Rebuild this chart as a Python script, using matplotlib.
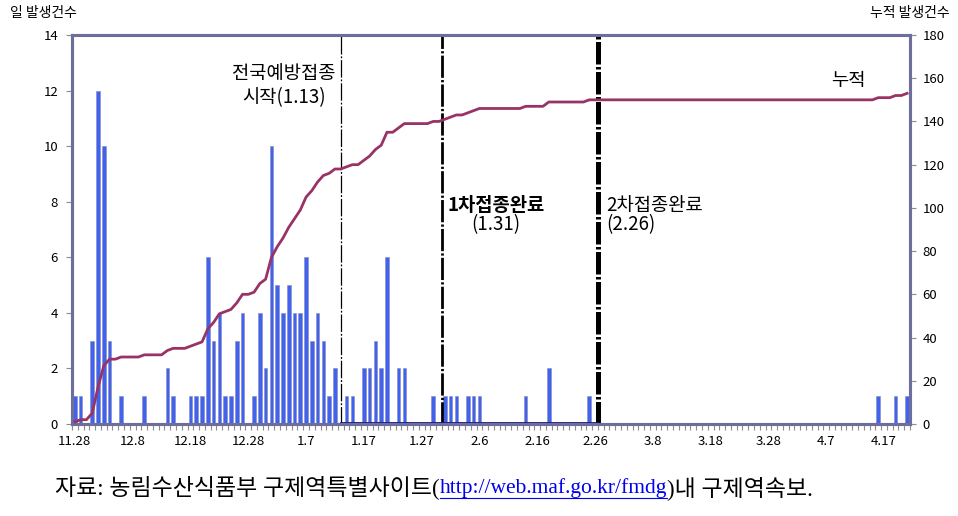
import numpy as np
import pandas as pd
import matplotlib
matplotlib.use("Agg")
import matplotlib.pyplot as plt

plt.rcParams['font.family'] = ['Noto Sans CJK KR', 'DejaVu Sans']

# ---- data ----
start_date = "2010-11-28"
end_date = "2011-04-21"
daily_cases = [
    1, 1, 0, 3, 12, 10, 3, 0, 1, 0,
    0, 0, 1, 0, 0, 0, 2, 1, 0, 0,
    1, 1, 1, 6, 3, 4, 1, 1, 3, 4,
    0, 1, 4, 2, 10, 5, 4, 5, 4, 4,
    6, 3, 4, 3, 1, 2, 0, 1, 1, 0,
    2, 2, 3, 2, 6, 0, 2, 2, 0, 0,
    0, 0, 1, 0, 1, 1, 1, 0, 1, 1,
    1, 0, 0, 0, 0, 0, 0, 0, 1, 0,
    0, 0, 2, 0, 0, 0, 0, 0, 0, 1,
    0, 0, 0, 0, 0, 0, 0, 0, 0, 0,
    0, 0, 0, 0, 0, 0, 0, 0, 0, 0,
    0, 0, 0, 0, 0, 0, 0, 0, 0, 0,
    0, 0, 0, 0, 0, 0, 0, 0, 0, 0,
    0, 0, 0, 0, 0, 0, 0, 0, 0, 1,
    0, 0, 1, 0, 1,
]
tick_labels = ["11.28", "12.8", "12.18", "12.28", "1.7", "1.17", "1.27",
               "2.6", "2.16", "2.26", "3.8", "3.18", "3.28", "4.7", "4.17"]
left_ticks = [0, 2, 4, 6, 8, 10, 12, 14]
right_ticks = [0, 20, 40, 60, 80, 100, 120, 140, 160, 180]

dates = pd.date_range(start_date, end_date, freq="D")
n = len(dates)
x = np.arange(n)
cumulative = np.cumsum(daily_cases)

# ---- figure ----
fig = plt.figure(figsize=(9.58, 5.16), dpi=100)
ax = fig.add_axes([72/958, 1-424/516, (910-72)/958, (424-35)/516])
ax2 = ax.twinx()

bar_color = '#4063ef'
ax.bar(x, daily_cases, width=0.62, color=bar_color, edgecolor='#8a8ab8',
       linewidth=0.4, zorder=2)
ax2.plot(x, cumulative, color='#993366', lw=2.0, zorder=3, solid_joinstyle='round')

ax.set_xlim(-0.5, n - 0.5)
ax.set_ylim(0, 14)
ax2.set_ylim(0, 180)

ax.set_yticks(left_ticks)
ax2.set_yticks(right_ticks)
ax.set_xticks(np.arange(0, n, 10))
ax.set_xticklabels(tick_labels)
ax.set_xticks(np.arange(-0.5, n, 1), minor=True)
ax.tick_params(axis='x', which='major', length=0, pad=8, labelsize=9.5)
ax.tick_params(axis='x', which='minor', length=4, width=0.8, color='#8c8c8c',
               direction='out')
ax.tick_params(axis='y', length=4, width=0.8, color='#8c8c8c', labelsize=9.5, pad=6)
ax2.tick_params(axis='y', length=4, width=0.8, color='#8c8c8c', labelsize=9.5, pad=5)

spine_col = '#6e6e9c'
for a in (ax, ax2):
    for s in a.spines.values():
        s.set_color(spine_col)
        s.set_linewidth(2.2)

# vertical lines
ymax = 14
ax.plot([46.0, 46.0], [0, ymax], color='black', lw=0.9,
        linestyle=(0, (14, 1.5, 1.5, 1.5)), zorder=4)
ax.plot([63.45, 63.45], [0, ymax], color='black', lw=2.0,
        linestyle=(0, (8, 0.8, 0.8, 0.8)), zorder=4)
ax.plot([90.45, 90.45], [0, ymax], color='black', lw=3.6,
        linestyle=(0, (4.5, 0.5, 0.5, 0.5)), zorder=4)
ax.plot([46.0, 90.45], [0.03, 0.03], color='#1a1a80', lw=1.3, zorder=4,
        clip_on=False)

# annotations
afs = 13.5
ax.text(36.2, 12.63, "전국예방접종", ha='center', va='center', fontsize=afs)
ax.text(36.2, 11.76, "시작(1.13)", ha='center', va='center', fontsize=afs)
ax.text(72.9, 7.88, "1차접종완료", ha='center', va='center', fontsize=afs,
        fontweight='bold')
ax.text(72.9, 7.16, "(1.31)", ha='center', va='center', fontsize=afs)
ax.text(92.0, 7.88, "2차접종완료", ha='left', va='center', fontsize=afs)
ax.text(92.0, 7.16, "(2.26)", ha='left', va='center', fontsize=afs)
ax.text(133.8, 12.37, "누적", ha='center', va='center', fontsize=afs)

fig.text(10/958, 1-13/516, "일 발생건수", ha='left', va='center', fontsize=10)
fig.text(950/958, 1-13/516, "누적 발생건수", ha='right', va='center', fontsize=10)

# footer with blue underlined URL
fig.canvas.draw()
renderer = fig.canvas.get_renderer()
fam = ['Liberation Serif', 'Noto Sans CJK KR']
parts = [("자료: 농림수산식품부 구제역특별사이트(", 'black', False, 16.5),
         ("http://web.maf.go.kr/fmdg", '#0000ee', True, 15.5),
         (")내 구제역속보.", 'black', False, 16.5)]
xpos = 55
ypix = 516 - 488
for txt, col, ul, fs in parts:
    t = fig.text(xpos/958, ypix/516, txt, ha='left', va='center', fontsize=fs,
                 family=fam, color=col)
    bb = t.get_window_extent(renderer=renderer)
    if ul:
        fig.add_artist(plt.Line2D([bb.x0/958, bb.x1/958],
                                  [(ypix-10)/516, (ypix-10)/516],
                                  color=col, lw=0.8))
    xpos = bb.x1

fig.savefig("out.png", dpi=100)
